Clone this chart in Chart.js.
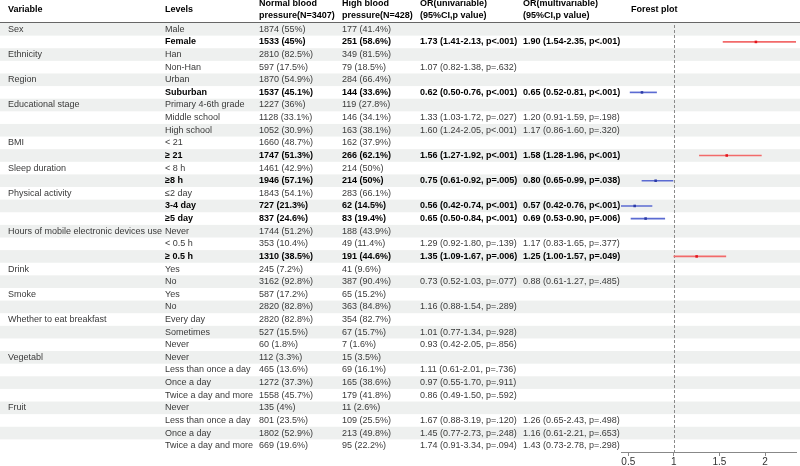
<!DOCTYPE html>
<html><head><meta charset="utf-8">
<script src="https://cdn.jsdelivr.net/npm/chart.js@4.4.0/dist/chart.umd.min.js"></script>
<style>html,body{margin:0;padding:0;background:#fff}</style>
</head><body>
<canvas id="c" width="800" height="466"></canvas>
<script>
const variables = ["Sex","","Ethnicity","","Region","","Educational stage","","","BMI","","Sleep duration","","Physical activity","","","Hours of mobile electronic devices use","","","Drink","","Smoke","","Whether to eat breakfast","","","Vegetabl","","","","Fruit","","",""];
const levels = ["Male","Female","Han","Non-Han","Urban","Suburban","Primary 4-6th grade","Middle school","High school","< 21","\u2265 21","< 8 h","\u22658 h","\u22642 day","3-4 day","\u22655 day","Never","< 0.5 h","\u2265 0.5 h","Yes","No","Yes","No","Every day","Sometimes","Never","Never","Less than once a day","Once a day","Twice a day and more","Never","Less than once a day","Once a day","Twice a day and more"];
const normalBP = ["1874 (55%)","1533 (45%)","2810 (82.5%)","597 (17.5%)","1870 (54.9%)","1537 (45.1%)","1227 (36%)","1128 (33.1%)","1052 (30.9%)","1660 (48.7%)","1747 (51.3%)","1461 (42.9%)","1946 (57.1%)","1843 (54.1%)","727 (21.3%)","837 (24.6%)","1744 (51.2%)","353 (10.4%)","1310 (38.5%)","245 (7.2%)","3162 (92.8%)","587 (17.2%)","2820 (82.8%)","2820 (82.8%)","527 (15.5%)","60 (1.8%)","112 (3.3%)","465 (13.6%)","1272 (37.3%)","1558 (45.7%)","135 (4%)","801 (23.5%)","1802 (52.9%)","669 (19.6%)"];
const highBP = ["177 (41.4%)","251 (58.6%)","349 (81.5%)","79 (18.5%)","284 (66.4%)","144 (33.6%)","119 (27.8%)","146 (34.1%)","163 (38.1%)","162 (37.9%)","266 (62.1%)","214 (50%)","214 (50%)","283 (66.1%)","62 (14.5%)","83 (19.4%)","188 (43.9%)","49 (11.4%)","191 (44.6%)","41 (9.6%)","387 (90.4%)","65 (15.2%)","363 (84.8%)","354 (82.7%)","67 (15.7%)","7 (1.6%)","15 (3.5%)","69 (16.1%)","165 (38.6%)","179 (41.8%)","11 (2.6%)","109 (25.5%)","213 (49.8%)","95 (22.2%)"];
const orUni = ["","1.73 (1.41-2.13, p<.001)","","1.07 (0.82-1.38, p=.632)","","0.62 (0.50-0.76, p<.001)","","1.33 (1.03-1.72, p=.027)","1.60 (1.24-2.05, p<.001)","","1.56 (1.27-1.92, p<.001)","","0.75 (0.61-0.92, p=.005)","","0.56 (0.42-0.74, p<.001)","0.65 (0.50-0.84, p<.001)","","1.29 (0.92-1.80, p=.139)","1.35 (1.09-1.67, p=.006)","","0.73 (0.52-1.03, p=.077)","","1.16 (0.88-1.54, p=.289)","","1.01 (0.77-1.34, p=.928)","0.93 (0.42-2.05, p=.856)","","1.11 (0.61-2.01, p=.736)","0.97 (0.55-1.70, p=.911)","0.86 (0.49-1.50, p=.592)","","1.67 (0.88-3.19, p=.120)","1.45 (0.77-2.73, p=.248)","1.74 (0.91-3.34, p=.094)"];
const orMulti = ["","1.90 (1.54-2.35, p<.001)","","","","0.65 (0.52-0.81, p<.001)","","1.20 (0.91-1.59, p=.198)","1.17 (0.86-1.60, p=.320)","","1.58 (1.28-1.96, p<.001)","","0.80 (0.65-0.99, p=.038)","","0.57 (0.42-0.76, p<.001)","0.69 (0.53-0.90, p=.006)","","1.17 (0.83-1.65, p=.377)","1.25 (1.00-1.57, p=.049)","","0.88 (0.61-1.27, p=.485)","","","","","","","","","","","1.26 (0.65-2.43, p=.498)","1.16 (0.61-2.21, p=.653)","1.43 (0.73-2.78, p=.298)"];
const boldRows = [1,5,10,12,14,15,18];
const forestOR = [null,1.90,null,null,null,0.65,null,null,null,null,1.58,null,0.80,null,0.57,0.69,null,null,1.25,null,null,null,null,null,null,null,null,null,null,null,null,null,null,null];
const forestLo = [null,1.54,null,null,null,0.52,null,null,null,null,1.28,null,0.65,null,0.42,0.53,null,null,1.00,null,null,null,null,null,null,null,null,null,null,null,null,null,null,null];
const forestHi = [null,2.35,null,null,null,0.81,null,null,null,null,1.96,null,0.99,null,0.76,0.90,null,null,1.57,null,null,null,null,null,null,null,null,null,null,null,null,null,null,null];
const xTicks = [0.5, 1, 1.5, 2];
const headers = [
  {x: 8, lines: ["Variable"]},
  {x: 165, lines: ["Levels"]},
  {x: 259, lines: ["Normal blood", "pressure(N=3407)"]},
  {x: 342, lines: ["High blood", "pressure(N=428)"]},
  {x: 420, lines: ["OR(univariable)", "(95%CI,p value)"]},
  {x: 523, lines: ["OR(multivariable)", "(95%CI,p value)"]},
  {x: 631, lines: ["Forest plot"]}
];
const colX = [8, 165, 259, 342, 420, 523];

const rowIds = levels.map((_, i) => String(i));
const RED_LINE = '#f26a6a', RED_PT = '#e3141c', BLUE_LINE = '#5b6bd2', BLUE_PT = '#2b3aa6';
const FONT = '"Liberation Sans", Arial, sans-serif';

const tablePlugin = {
  id: 'table',
  beforeDraw(chart) {
    const {ctx, chartArea, scales} = chart;
    const y = scales.y;
    const rowH = (chartArea.bottom - chartArea.top) / rowIds.length;
    ctx.save();
    ctx.fillStyle = '#fff';
    ctx.fillRect(0, 0, chart.width, chart.height);
    ctx.fillStyle = '#eef0ef';
    rowIds.forEach((id, i) => {
      if (i % 2 === 0) {
        const cy = y.getPixelForValue(i);
        ctx.fillRect(0, cy - rowH / 2, chart.width, rowH);
      }
    });
    ctx.strokeStyle = '#666';
    ctx.lineWidth = 1;
    ctx.beginPath();
    ctx.moveTo(0, Math.round(chartArea.top) - 0.5);
    ctx.lineTo(chart.width, Math.round(chartArea.top) - 0.5);
    ctx.stroke();
    ctx.restore();
  },
  beforeDatasetsDraw(chart) {
    const {ctx, chartArea, scales} = chart;
    const px = Math.round(scales.x.getPixelForValue(1)) + 0.5;
    ctx.save();
    ctx.strokeStyle = '#8a8a8a';
    ctx.lineWidth = 1;
    ctx.setLineDash([3, 2]);
    ctx.beginPath();
    ctx.moveTo(px, chartArea.top + 2);
    ctx.lineTo(px, chartArea.bottom);
    ctx.stroke();
    ctx.restore();
  },
  afterDraw(chart) {
    const {ctx, scales} = chart;
    const y = scales.y;
    ctx.save();
    ctx.textBaseline = 'middle';
    ctx.textAlign = 'left';
    ctx.fillStyle = '#000';
    ctx.font = 'bold 9px ' + FONT;
    headers.forEach(h => {
      if (h.lines.length === 1) ctx.fillText(h.lines[0], h.x, 10);
      else { ctx.fillText(h.lines[0], h.x, 4); ctx.fillText(h.lines[1], h.x, 16); }
    });
    rowIds.forEach((id, i) => {
      const cy = y.getPixelForValue(i);
      const bold = boldRows.includes(i);
      ctx.font = '9px ' + FONT;
      ctx.fillStyle = '#3a3a3a';
      ctx.fillText(variables[i], colX[0], cy);
      if (bold) { ctx.font = 'bold 9px ' + FONT; ctx.fillStyle = '#000'; }
      ctx.fillText(levels[i], colX[1], cy);
      ctx.fillText(normalBP[i], colX[2], cy);
      ctx.fillText(highBP[i], colX[3], cy);
      ctx.fillText(orUni[i], colX[4], cy);
      ctx.fillText(orMulti[i], colX[5], cy);
    });
    ctx.restore();
  }
};

const ciData = forestLo.map((lo, i) => lo == null ? null : [lo, forestHi[i]]);
const ptData = [];
forestOR.forEach((v, i) => { if (v != null) ptData.push({x: v, y: rowIds[i]}); });
const ptColors = ptData.map(p => p.x > 1 ? RED_PT : BLUE_PT);

new Chart(document.getElementById('c'), {
  type: 'bar',
  data: {
    labels: rowIds,
    datasets: [
      {
        type: 'bar',
        data: ciData,
        barThickness: 1,
        backgroundColor: ctx => (forestOR[ctx.dataIndex] > 1 ? RED_LINE : BLUE_LINE),
        borderWidth: 0,
        grouped: false,
        order: 2
      },
      {
        type: 'scatter',
        data: ptData,
        pointStyle: 'rect',
        pointRadius: 1.8,
        pointBackgroundColor: ptColors,
        pointBorderColor: ptColors,
        pointBorderWidth: 0,
        showLine: false,
        order: 1
      }
    ]
  },
  options: {
    indexAxis: 'y',
    responsive: false,
    animation: false,
    layout: {padding: {left: 621, top: 23, right: 0, bottom: 0}},
    plugins: {legend: {display: false}, tooltip: {enabled: false}},
    scales: {
      x: {
        type: 'linear',
        position: 'bottom',
        min: 0.42,
        max: 2.34,
        afterBuildTicks: s => { s.ticks = xTicks.map(v => ({value: v})); },
        afterFit: s => { s.height = 14; },
        ticks: {font: {size: 10, family: FONT}, color: '#333', padding: 0, maxRotation: 0,
                callback: v => String(v)},
        grid: {display: true, drawOnChartArea: false, drawTicks: true, tickLength: 4, color: '#888'},
        border: {display: true, color: '#888'}
      },
      y: {
        type: 'category',
        display: false,
        offset: true,
        grid: {display: false}
      }
    }
  },
  plugins: [tablePlugin]
});
</script>
</body></html>
